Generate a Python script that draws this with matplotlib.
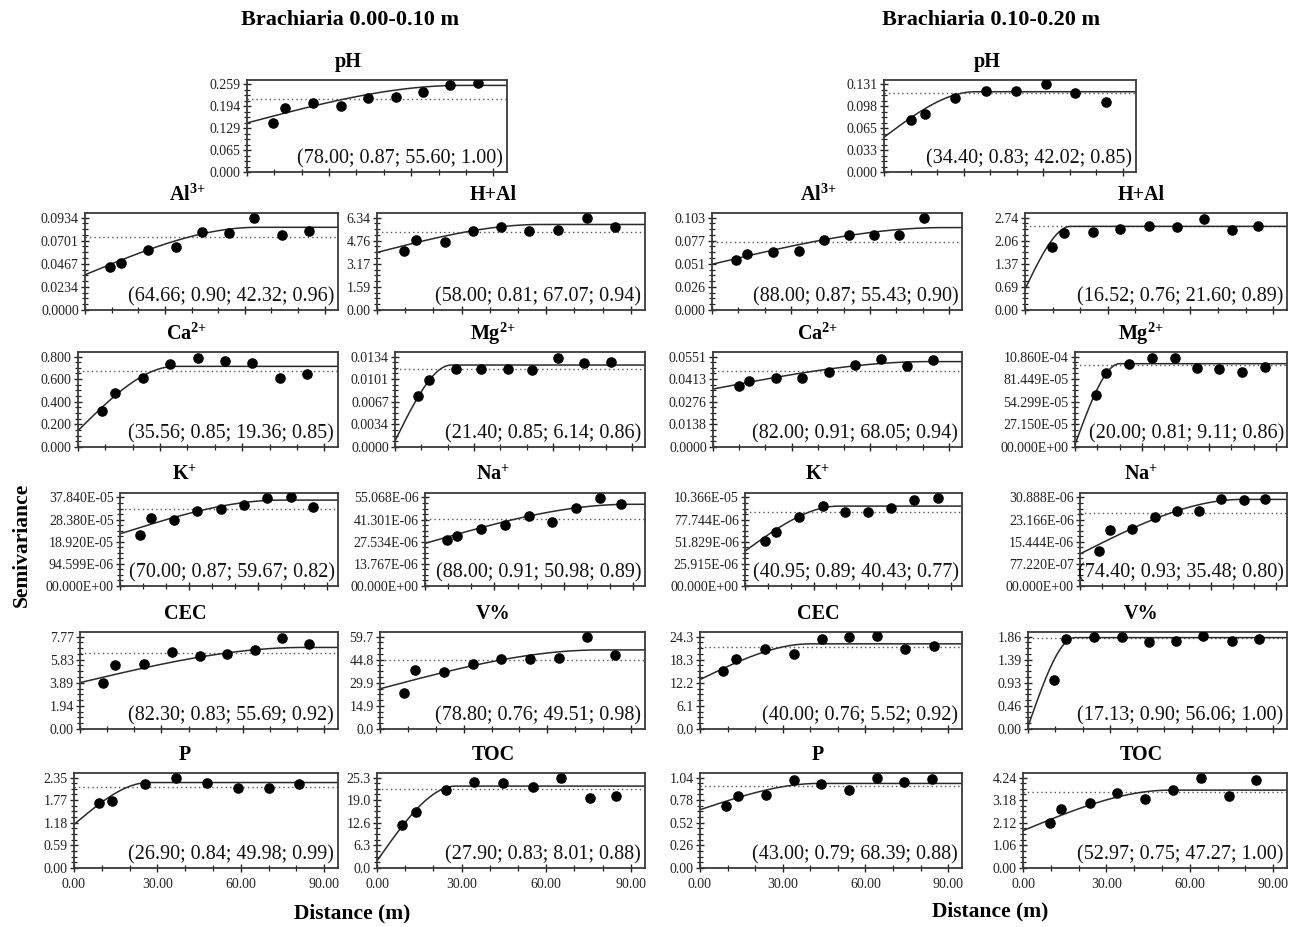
import numpy as np
import matplotlib
matplotlib.use("Agg")
import matplotlib.pyplot as plt
from matplotlib.ticker import FixedLocator, FixedFormatter, AutoMinorLocator

plt.rcParams['font.family'] = ['Liberation Serif', 'DejaVu Serif']
plt.rcParams['mathtext.fontset'] = 'custom'
plt.rcParams['mathtext.rm'] = 'Liberation Serif'
plt.rcParams['mathtext.bf'] = 'Liberation Serif:bold'
plt.rcParams['mathtext.it'] = 'Liberation Serif:italic'

# ---------------- data: Brachiaria 0.00-0.10 m ----------------
a_ph_x = [9.6, 13.8, 24, 34.3, 44.3, 54.3, 64.2, 74.2, 84.3]
a_ph_y = [0.144, 0.188, 0.203, 0.195, 0.219, 0.223, 0.236, 0.257, 0.262]
a_al_x = [9.5, 13.6, 23.7, 34, 44, 54, 63.5, 74, 84]
a_al_y = [0.0430, 0.0479, 0.0602, 0.0640, 0.0787, 0.0777, 0.0927, 0.0759, 0.0794]
a_hal_x = [9.6, 13.8, 24, 34, 44, 54, 64, 74.5, 84.3]
a_hal_y = [4.04, 4.82, 4.66, 5.39, 5.70, 5.42, 5.46, 6.29, 5.70]
a_ca_x = [8.9, 13.4, 23.8, 33.7, 43.8, 53.7, 63.5, 73.8, 83.8]
a_ca_y = [0.322, 0.478, 0.606, 0.734, 0.785, 0.764, 0.743, 0.606, 0.645]
a_mg_x = [8.9, 13.1, 23.2, 32.8, 42.8, 52.2, 62.0, 72.0, 82.0]
a_mg_y = [0.00756, 0.00997, 0.01149, 0.01159, 0.01149, 0.01139, 0.01325, 0.01249, 0.01259]
a_k_x = [8.9, 13.6, 23.6, 33.5, 43.9, 53.9, 64.2, 74.4, 84.2]
a_k_y = [21.8, 28.9, 28.0, 32.0, 33.1, 34.6, 37.7, 38.0, 33.9]          # x 1e-5
a_na_x = [9.7, 14.0, 24.2, 34.5, 44.7, 54.7, 65.2, 75.4, 84.7]
a_na_y = [28.9, 31.2, 35.7, 38.2, 43.6, 39.9, 48.8, 55.0, 51.2]          # x 1e-6
a_cec_x = [8.5, 13.0, 23.5, 33.8, 44.3, 54.3, 64.3, 74.5, 84.3]
a_cec_y = [3.90, 5.37, 5.48, 6.44, 6.16, 6.30, 6.64, 7.68, 7.12]
a_v_x = [8.5, 12.7, 23.0, 33.5, 43.5, 53.8, 64.0, 74.3, 84.2]
a_v_y = [23.0, 38.4, 36.8, 41.7, 45.4, 45.4, 46.1, 59.2, 47.8]
a_p_x = [9.1, 13.6, 25.5, 36.7, 47.7, 59.1, 70.0, 81.0]
a_p_y = [1.69, 1.73, 2.18, 2.33, 2.22, 2.08, 2.09, 2.17]
a_toc_x = [8.9, 13.8, 24.3, 34.4, 44.6, 55.2, 65.4, 75.4, 84.8]
a_toc_y = [12.07, 15.6, 21.7, 24.1, 23.8, 22.7, 25.1, 19.5, 20.0]

# ---------------- data: Brachiaria 0.10-0.20 m ----------------
b_ph_x = [10.3, 15.6, 26.8, 38.4, 49.8, 60.9, 72.1, 83.8]
b_ph_y = [0.0775, 0.0865, 0.110, 0.1215, 0.1215, 0.131, 0.1185, 0.104]
b_al_x = [9.0, 13.2, 23.0, 33.0, 42.5, 52.0, 61.5, 71.0, 80.5]
b_al_y = [0.0560, 0.0625, 0.0642, 0.0662, 0.0785, 0.0838, 0.0838, 0.0838, 0.1022]
b_hal_x = [9.9, 14.3, 24.7, 34.5, 44.9, 55.0, 64.8, 74.9, 84.6]
b_hal_y = [1.87, 2.28, 2.30, 2.39, 2.48, 2.45, 2.70, 2.37, 2.50]
b_ca_x = [9.8, 13.8, 24.0, 34.1, 44.2, 54.2, 64.1, 74.2, 84.1]
b_ca_y = [0.0369, 0.0404, 0.0418, 0.0418, 0.0455, 0.0500, 0.0537, 0.0492, 0.0531]
b_mg_x = [9.6, 13.8, 24.4, 34.5, 44.7, 54.7, 64.7, 74.9, 85.0]
b_mg_y = [6.24, 8.90, 9.92, 10.73, 10.73, 9.51, 9.31, 9.02, 9.63]       # x 1e-4
b_k_x = [8.8, 13.4, 23.7, 34.0, 43.9, 53.8, 63.7, 74.0, 84.4]
b_k_y = [52.6, 63.5, 80.3, 93.5, 86.1, 86.1, 90.8, 100.5, 103.3]       # x 1e-6
b_na_x = [8.6, 13.8, 24.0, 34.5, 44.7, 54.7, 64.9, 75.2, 85.0]
b_na_y = [12.3, 19.7, 19.9, 24.2, 26.1, 26.2, 30.5, 30.0, 30.5]         # x 1e-6
b_cec_x = [8.5, 13.0, 23.5, 34.0, 44.2, 54.2, 64.0, 74.5, 84.8]
b_cec_y = [15.3, 18.5, 21.0, 19.7, 23.6, 24.2, 24.5, 21.1, 21.9]
b_v_x = [9.7, 14.0, 24.3, 34.3, 44.3, 54.3, 64.3, 74.8, 84.8]
b_v_y = [0.99, 1.82, 1.86, 1.86, 1.75, 1.77, 1.87, 1.77, 1.82]
b_p_x = [9.6, 13.8, 24.0, 34.0, 44.0, 54.0, 64.0, 74.0, 84.0]
b_p_y = [0.715, 0.83, 0.834, 1.008, 0.96, 0.893, 1.04, 0.988, 1.02]
b_toc_x = [9.6, 13.8, 24.0, 34.0, 44.0, 54.0, 64.0, 74.0, 84.0]
b_toc_y = [2.10, 2.77, 3.06, 3.52, 3.22, 3.65, 4.24, 3.36, 4.13]

# y tick labels (top value = last label)
a_ticks = {
    'ph': ["0.000", "0.065", "0.129", "0.194", "0.259"],
    'al': ["0.0000", "0.0234", "0.0467", "0.0701", "0.0934"],
    'hal': ["0.00", "1.59", "3.17", "4.76", "6.34"],
    'ca': ["0.000", "0.200", "0.400", "0.600", "0.800"],
    'mg': ["0.0000", "0.0034", "0.0067", "0.0101", "0.0134"],
    'k': ["00.000E+00", "94.599E-06", "18.920E-05", "28.380E-05", "37.840E-05"],
    'na': ["00.000E+00", "13.767E-06", "27.534E-06", "41.301E-06", "55.068E-06"],
    'cec': ["0.00", "1.94", "3.89", "5.83", "7.77"],
    'v': ["0.0", "14.9", "29.9", "44.8", "59.7"],
    'p': ["0.00", "0.59", "1.18", "1.77", "2.35"],
    'toc': ["0.0", "6.3", "12.6", "19.0", "25.3"],
}
b_ticks = {
    'ph': ["0.000", "0.033", "0.065", "0.098", "0.131"],
    'al': ["0.000", "0.026", "0.051", "0.077", "0.103"],
    'hal': ["0.00", "0.69", "1.37", "2.06", "2.74"],
    'ca': ["0.0000", "0.0138", "0.0276", "0.0413", "0.0551"],
    'mg': ["00.000E+00", "27.150E-05", "54.299E-05", "81.449E-05", "10.860E-04"],
    'k': ["00.000E+00", "25.915E-06", "51.829E-06", "77.744E-06", "10.366E-05"],
    'na': ["00.000E+00", "77.220E-07", "15.444E-06", "23.166E-06", "30.888E-06"],
    'cec': ["0.0", "6.1", "12.2", "18.3", "24.3"],
    'v': ["0.00", "0.46", "0.93", "1.39", "1.86"],
    'p': ["0.00", "0.26", "0.52", "0.78", "1.04"],
    'toc': ["0.00", "1.06", "2.12", "3.18", "4.24"],
}
# axis top values (in the plotted units)
a_top = [0.259, 0.0934, 6.34, 0.800, 0.0134, 37.84, 55.068, 7.77, 59.7, 2.35, 25.3]
b_top = [0.131, 0.103, 2.74, 0.0551, 10.86, 103.66, 30.888, 24.3, 1.86, 1.04, 4.24]

# spherical model: nugget, sill, sample variance (dotted)
a_nug = [0.145, 0.0356, 3.95, 0.145, 0.0009, 22.3, 26.5, 3.9, 26.0, 1.13, 2.0]
a_sill = [0.256, 0.0836, 5.87, 0.713, 0.01214, 36.7, 50.8, 6.86, 51.1, 2.22, 22.9]
a_var = [0.217, 0.0735, 5.34, 0.675, 0.01159, 32.9, 41.5, 6.41, 44.5, 2.11, 22.0]
b_nug = [0.052, 0.051, 0.62, 0.0353, 0.3, 40.9, 11.2, 13.0, 0.05, 0.67, 1.75]
b_sill = [0.120, 0.0919, 2.48, 0.0520, 10.0, 93.5, 30.2, 22.4, 1.84, 0.972, 3.65]
b_var = [0.1185, 0.0756, 2.49, 0.0465, 9.84, 86.9, 25.6, 21.6, 1.84, 0.94, 3.54]

# annotated parameters (range; R2; ratio; CV)
a_range = [78.00, 64.66, 58.00, 35.56, 21.40, 70.00, 88.00, 82.30, 78.80, 26.90, 27.90]
a_r2 = [0.87, 0.90, 0.81, 0.85, 0.85, 0.87, 0.91, 0.83, 0.76, 0.84, 0.83]
a_ratio = [55.60, 42.32, 67.07, 19.36, 6.14, 59.67, 50.98, 55.69, 49.51, 49.98, 8.01]
a_cv = [1.00, 0.96, 0.94, 0.85, 0.86, 0.82, 0.89, 0.92, 0.98, 0.99, 0.88]
b_range = [34.40, 88.00, 16.52, 82.00, 20.00, 40.95, 74.40, 40.00, 17.13, 43.00, 52.97]
b_r2 = [0.83, 0.87, 0.76, 0.91, 0.81, 0.89, 0.93, 0.76, 0.90, 0.79, 0.75]
b_ratio = [42.02, 55.43, 21.60, 68.05, 9.11, 40.43, 35.48, 5.52, 56.06, 68.39, 47.27]
b_cv = [0.85, 0.90, 0.89, 0.94, 0.86, 0.77, 0.80, 0.92, 1.00, 0.88, 1.00]

keys = ['ph', 'al', 'hal', 'ca', 'mg', 'k', 'na', 'cec', 'v', 'p', 'toc']
titles = ['pH', r'Al$^{\mathbf{3}\mathbf{+}}$', 'H+Al', r'Ca$^{\mathbf{2}\mathbf{+}}$',
          r'Mg$^{\mathbf{2}\mathbf{+}}$', r'K$^{\mathbf{+}}$', r'Na$^{\mathbf{+}}$',
          'CEC', 'V%', 'P', 'TOC']
a_x = [a_ph_x, a_al_x, a_hal_x, a_ca_x, a_mg_x, a_k_x, a_na_x, a_cec_x, a_v_x, a_p_x, a_toc_x]
a_y = [a_ph_y, a_al_y, a_hal_y, a_ca_y, a_mg_y, a_k_y, a_na_y, a_cec_y, a_v_y, a_p_y, a_toc_y]
b_x = [b_ph_x, b_al_x, b_hal_x, b_ca_x, b_mg_x, b_k_x, b_na_x, b_cec_x, b_v_x, b_p_x, b_toc_x]
b_y = [b_ph_y, b_al_y, b_hal_y, b_ca_y, b_mg_y, b_k_y, b_na_y, b_cec_y, b_v_y, b_p_y, b_toc_y]

# ---------------- layout (pixels) ----------------
W, H = 1304, 927
fig = plt.figure(figsize=(W / 100, H / 100), dpi=100)

rows = [(80, 172), (213, 310), (352, 447), (493, 586), (632, 729), (773, 868)]
a_xpos = [(247, 507), (85, 338), (377, 645), (78, 338), (395, 645), (120, 338),
          (425, 645), (80, 338), (380, 645), (74, 338), (377, 645)]
b_xpos = [(884, 1136), (712, 962), (1025, 1287), (713, 962), (1075, 1287), (745, 962),
          (1080, 1287), (700, 962), (1028, 1287), (700, 962), (1023, 1287)]
a_tx = [348, 187, 493, 187, 493, 185, 493, 185, 493, 185, 493]
b_tx = [987, 818, 1141, 818, 1141, 818, 1141, 818, 1141, 818, 1141]


def spherical(h, c0, sill, a):
    h = np.asarray(h, dtype=float)
    r = np.clip(h / a, 0, 1)
    return c0 + (sill - c0) * (1.5 * r - 0.5 * r ** 3)


def panel(xpos, row, x, y, top, tlabels, nug, sill, var, rng, r2, ratio, cv, title, tx, bottom):
    x0, x1 = xpos
    yt, yb = rows[row]
    ax = fig.add_axes([x0 / W, 1 - yb / H, (x1 - x0) / W, (yb - yt) / H])
    h = np.linspace(0, 95, 600)
    ax.plot(h, spherical(h, nug, sill, rng), color='#2a2a2a', lw=1.1, zorder=2)
    ax.axhline(var, color='#555555', lw=1.0, ls=(0, (1, 2.2)), zorder=1)
    ax.plot(x, y, 'o', color='black', ms=6.6, zorder=3)
    ax.set_xlim(0, 95)
    ax.set_ylim(0, top * 1.05)
    ax.yaxis.set_major_locator(FixedLocator(np.linspace(0, top, 5)))
    ax.yaxis.set_major_formatter(FixedFormatter(tlabels))
    ax.yaxis.set_minor_locator(AutoMinorLocator(4))
    ax.xaxis.set_major_locator(FixedLocator([0, 30, 60, 90]))
    ax.xaxis.set_minor_locator(FixedLocator([10, 20, 40, 50, 70, 80]))
    if bottom:
        ax.xaxis.set_major_formatter(FixedFormatter(["0.00", "30.00", "60.00", "90.00"]))
    else:
        ax.xaxis.set_major_formatter(FixedFormatter(["", "", "", ""]))
    ax.tick_params(axis='both', which='major', direction='inout', length=6, width=1,
                   labelsize=10, pad=1.5, colors='#222222')
    ax.tick_params(axis='both', which='minor', direction='inout', length=4, width=0.9,
                   colors='#222222')
    ax.tick_params(axis='x', which='major', pad=4)
    for s in ax.spines.values():
        s.set_color('#3a3a3a')
        s.set_linewidth(1.3)
    ax.text(0.985, 0.035, "({:.2f}; {:.2f}; {:.2f}; {:.2f})".format(rng, r2, ratio, cv),
            transform=ax.transAxes, ha='right', va='bottom', fontsize=14.5, color='#111111')
    fig.text(tx / W, 1 - (yt - 18) / H, title, ha='center', va='center',
             fontsize=14.5, fontweight='bold')


def panel_row(i):
    return 0 if i == 0 else (i + 1) // 2


for i, k in enumerate(keys):
    r = panel_row(i)
    panel(a_xpos[i], r, a_x[i], a_y[i], a_top[i], a_ticks[k], a_nug[i], a_sill[i], a_var[i],
          a_range[i], a_r2[i], a_ratio[i], a_cv[i], titles[i], a_tx[i], r == 5)
    panel(b_xpos[i], r, b_x[i], b_y[i], b_top[i], b_ticks[k], b_nug[i], b_sill[i], b_var[i],
          b_range[i], b_r2[i], b_ratio[i], b_cv[i], titles[i], b_tx[i], r == 5)

fig.text(350 / W, 1 - 20 / H, "Brachiaria 0.00-0.10 m", ha='center', va='center',
         fontsize=16, fontweight='bold')
fig.text(991 / W, 1 - 20 / H, "Brachiaria 0.10-0.20 m", ha='center', va='center',
         fontsize=16, fontweight='bold')
fig.text(22 / W, 1 - 545 / H, "Semivariance", ha='center', va='center', rotation=90,
         fontsize=15.5, fontweight='bold')
fig.text(352 / W, 1 - 913 / H, "Distance (m)", ha='center', va='center',
         fontsize=15.5, fontweight='bold')
fig.text(990 / W, 1 - 911 / H, "Distance (m)", ha='center', va='center',
         fontsize=15.5, fontweight='bold')

fig.savefig("out.png", dpi=100, facecolor='white')
